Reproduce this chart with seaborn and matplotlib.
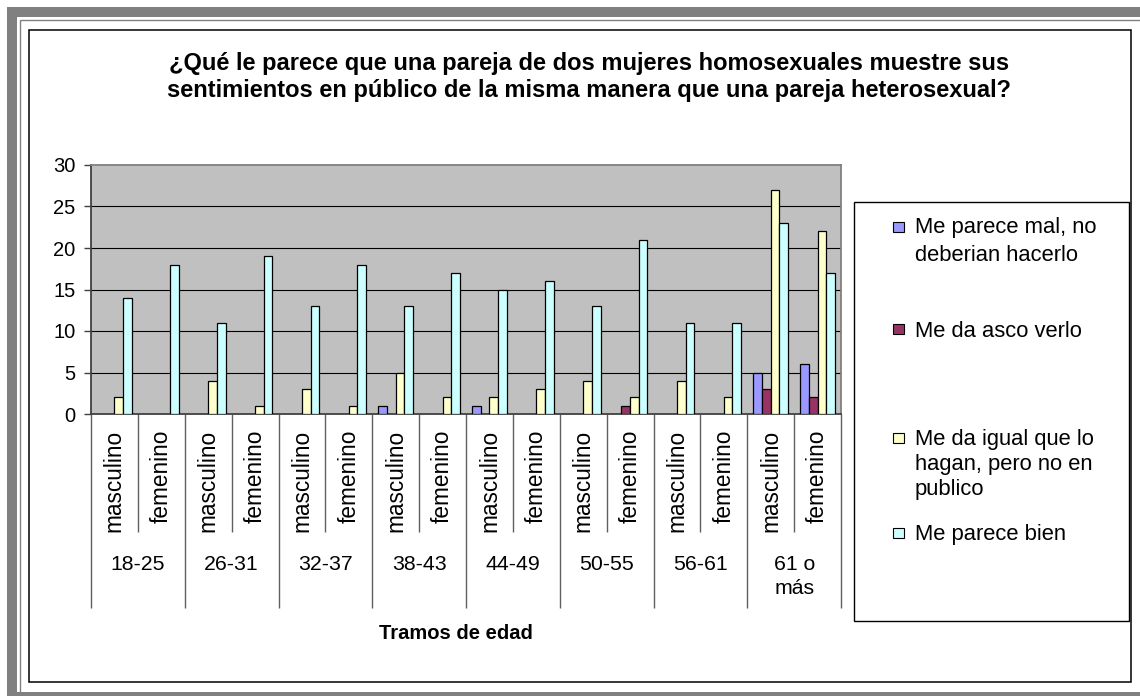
import numpy as np
import pandas as pd
import matplotlib
matplotlib.use("Agg")
import matplotlib.pyplot as plt
import matplotlib.transforms as mtransforms
from matplotlib.patches import Rectangle
import seaborn as sns

# ---------------- data ----------------
groups = ["18-25", "26-31", "32-37", "38-43", "44-49", "50-55", "56-61", "61 o\nmás"]
sexes = ["masculino", "femenino"]
series_names = [
    "Me parece mal, no deberian hacerlo",
    "Me da asco verlo",
    "Me da igual que lo hagan, pero no en publico",
    "Me parece bien",
]
legend_lines = [
    ["Me parece mal, no", "deberian hacerlo"],
    ["Me da asco verlo"],
    ["Me da igual que lo", "hagan, pero no en", "publico"],
    ["Me parece bien"],
]
mal = [0, 0, 0, 0, 0, 0, 1, 0, 1, 0, 0, 0, 0, 0, 5, 6]
asco = [0, 0, 0, 0, 0, 0, 0, 0, 0, 0, 0, 1, 0, 0, 3, 2]
igual = [2, 0, 4, 1, 3, 1, 5, 2, 2, 3, 4, 2, 4, 2, 27, 22]
bien = [14, 18, 11, 19, 13, 18, 13, 17, 15, 16, 13, 21, 11, 11, 23, 17]
colors = ["#9999FF", "#993366", "#FFFFCC", "#CCFFFF"]
title_lines = [
    "¿Qué le parece que una pareja de dos mujeres homosexuales muestre sus",
    "sentimientos en público de la misma manera que una pareja heterosexual?",
]
xlabel = "Tramos de edad"

# ---------------- figure ----------------
sns.set_theme(style="white")
plt.rcParams["font.family"] = ["Liberation Sans", "DejaVu Sans"]
plt.rcParams["text.color"] = "black"
plt.rcParams["ytick.color"] = "black"
plt.rcParams["ytick.labelcolor"] = "black"

W, H = 1140, 696
fig = plt.figure(figsize=(W / 100, H / 100), dpi=100)
fig.patch.set_facecolor("white")


def fx(p):
    return p / W


def fy(p):
    return 1 - p / H


# frames
fig.patches.append(Rectangle((fx(19.5), fy(697)), fx(1145 - 19.5), (697 - 19.5) / H,
                             transform=fig.transFigure, fill=False,
                             edgecolor="#808080", lw=1.0))
fig.patches.append(Rectangle((fx(12), fy(697)), fx(1145 - 12), (697 - 12) / H,
                             transform=fig.transFigure, fill=False,
                             edgecolor="#808080", lw=7.2))
fig.patches.append(Rectangle((fx(28.5), fy(682)), fx(1131 - 28.5), (682 - 29.5) / H,
                             transform=fig.transFigure, fill=False,
                             edgecolor="black", lw=1.1))

ax_top, ax_bot, ax_l, ax_r = 165, 414, 91, 841
ax = fig.add_axes([fx(ax_l), fy(ax_bot), fx(ax_r) - fx(ax_l), (ax_bot - ax_top) / H])
ax.set_facecolor("#C0C0C0")

keys = []
for gi, g in enumerate(groups):
    for s in sexes:
        keys.append(f"{gi}-{s}")
rows = []
for name, vals in zip(series_names, [mal, asco, igual, bien]):
    for k, v in zip(keys, vals):
        rows.append({"cat": k, "serie": name, "valor": v})
df = pd.DataFrame(rows)

sns.barplot(data=df, x="cat", y="valor", hue="serie", order=keys,
            hue_order=series_names, palette=colors, saturation=1,
            width=0.74, edgecolor="black", linewidth=0.9, ax=ax,
            legend=False, errorbar=None, zorder=3)

for p in ax.patches:
    if p.get_height() == 0:
        p.set_visible(False)

ax.set_xlim(-0.5, len(keys) - 0.5)
ax.set_ylim(0, 30)
ax.set_yticks(range(0, 31, 5))
ax.set_axisbelow(True)
ax.yaxis.grid(True, color="black", lw=0.8)
ax.xaxis.grid(False)
for line, loc in zip(ax.get_ygridlines(), ax.get_yticks()):
    if loc in (0, 30):
        line.set_visible(False)

for side in ["left", "bottom"]:
    ax.spines[side].set_color("#404040")
    ax.spines[side].set_linewidth(1.3)
for side in ["top", "right"]:
    ax.spines[side].set_color("#808080")
    ax.spines[side].set_linewidth(1.3)

ax.tick_params(axis="y", direction="out", length=5, width=1, color="#404040",
               labelsize=14.5, pad=6, left=True, labelcolor="black")
ax.tick_params(axis="x", bottom=False, labelbottom=False)
ax.set_xlabel("")
ax.set_ylabel("")

axh = ax_bot - ax_top
trans = mtransforms.blended_transform_factory(ax.transData, ax.transAxes)
for i in range(len(keys) + 1):
    x = i - 0.5
    yend = -(608 - ax_bot) / axh if i % 2 == 0 else -(532 - ax_bot) / axh
    ax.plot([x, x], [0, yend], transform=trans, color="#606060", lw=1,
            clip_on=False, solid_capstyle="butt")

for i, k in enumerate(keys):
    ax.text(i, -(430 - ax_bot) / axh, sexes[i % 2], transform=trans,
            rotation=90, ha="center", va="top", fontsize=16.3, color="black")

for gi, g in enumerate(groups):
    ax.text(2 * gi + 0.5, -(555 - ax_bot) / axh, g, transform=trans,
            ha="center", va="top", fontsize=15.3, linespacing=1.3, color="black")

# title and axis title
for txt, base in zip(title_lines, [70, 97]):
    fig.text(fx(589), fy(base), txt, ha="center", va="baseline",
             fontsize=17, fontweight="bold", color="black")
fig.text(fx(456), fy(639), xlabel, ha="center", va="baseline",
         fontsize=14.5, fontweight="bold", color="black")

# legend
fig.patches.append(Rectangle((fx(854), fy(621)), fx(1129 - 854), (621 - 202) / H,
                             transform=fig.transFigure, facecolor="white",
                             edgecolor="black", lw=1.0, zorder=1))
square_centers = [227, 329, 438, 533]
baselines = [[233, 261], [337], [445, 470, 495], [540]]
for c, sc, lines, bls in zip(colors, square_centers, legend_lines, baselines):
    fig.patches.append(Rectangle((fx(893), fy(sc + 5.25)), fx(10.5), 10.5 / H,
                                 transform=fig.transFigure, facecolor=c,
                                 edgecolor="black", lw=0.8, zorder=2))
    for ln, b in zip(lines, bls):
        fig.text(fx(915), fy(b), ln, ha="left", va="baseline", fontsize=15.8,
                 color="black")

fig.savefig("out.png", dpi=100, facecolor="white")
